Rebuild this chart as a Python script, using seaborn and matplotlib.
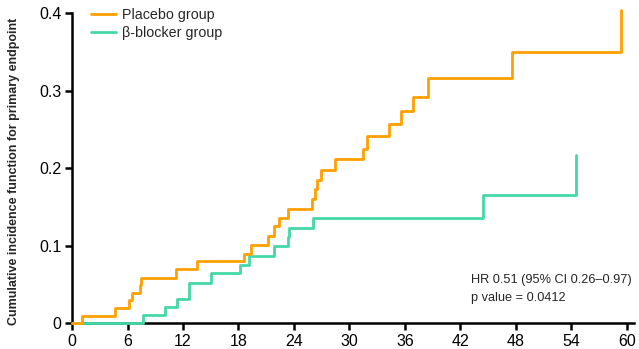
import pandas as pd
import matplotlib
matplotlib.use('Agg')
import matplotlib.pyplot as plt
import seaborn as sns

# ----------------------------- #
#  Data
# ----------------------------- #
placebo_time = [0, 1.05, 4.7, 6.2, 6.5, 7.35, 7.5, 11.2, 13.55, 18.6, 19.3, 21.2, 21.8,
                22.4, 23.4, 25.9, 26.3, 26.5, 26.9, 28.4, 31.5, 31.9, 34.3, 35.6, 36.9,
                38.5, 47.6, 59.4]
placebo_cif = [0, 0.010, 0.020, 0.030, 0.039, 0.049, 0.059, 0.070, 0.080, 0.090, 0.101,
               0.113, 0.125, 0.136, 0.148, 0.160, 0.173, 0.185, 0.198, 0.212, 0.225,
               0.242, 0.257, 0.274, 0.292, 0.317, 0.350, 0.405]

beta_time = [0, 7.7, 10.1, 11.3, 12.65, 15.0, 18.2, 19.1, 21.8, 23.3, 23.45, 26.1, 44.4, 54.45]
beta_cif = [0, 0.011, 0.0215, 0.031, 0.0525, 0.0645, 0.075, 0.087, 0.100, 0.112, 0.123,
            0.136, 0.165, 0.217]

x_ticks = [0, 6, 12, 18, 24, 30, 36, 42, 48, 54, 60]
y_ticks = [0, 0.1, 0.2, 0.3, 0.4]
y_tick_labels = ['0', '0.1', '0.2', '0.3', '0.4']

placebo_df = pd.DataFrame({'time': placebo_time, 'cif': placebo_cif})
beta_df = pd.DataFrame({'time': beta_time, 'cif': beta_cif})

# ----------------------------- #
#  Plot
# ----------------------------- #
sns.set_style('ticks')
plt.rcParams['font.family'] = ['Liberation Sans', 'DejaVu Sans']

fig = plt.figure(figsize=(6.39, 3.49), dpi=100)
ax = fig.add_axes([0.1127, 0.0736, 0.88, 0.888])

orange = '#FF9F00'
teal = '#45D8A6'

sns.lineplot(data=beta_df, x='time', y='cif', ax=ax, color=teal, lw=2.0,
             drawstyle='steps-post', estimator=None, sort=False,
             label='β-blocker group', zorder=3, clip_on=False)
sns.lineplot(data=placebo_df, x='time', y='cif', ax=ax, color=orange, lw=2.0,
             drawstyle='steps-post', estimator=None, sort=False,
             label='Placebo group', zorder=4, clip_on=False)

ax.set_xlim(0, 60.8)
ax.set_ylim(0, 0.4)
ax.set_xticks(x_ticks)
ax.set_yticks(y_ticks)
ax.set_yticklabels(y_tick_labels)
ax.set_xlabel('')
ax.set_ylabel('Cumulative incidence function for primary endpoint',
              fontsize=9, fontweight='bold')
ax.yaxis.set_label_coords(-0.0925, 0.49)
ax.tick_params(axis='both', labelsize=11.5, width=1.8, length=5, color='black',
               labelcolor='black', pad=2.5)
for side in ['left', 'bottom']:
    ax.spines[side].set_linewidth(1.8)
    ax.spines[side].set_color('black')
sns.despine(ax=ax)

handles, labels = ax.get_legend_handles_labels()
ax.legend(handles[::-1], labels[::-1], loc='upper left',
          bbox_to_anchor=(0.122, 1.015), bbox_transform=fig.transFigure,
          frameon=False, fontsize=10.3, handlelength=1.75, handletextpad=0.45,
          labelspacing=0.3)

fig.text(0.737, 0.215, 'HR 0.51 (95% CI 0.26\u20130.97)', fontsize=9.2, va='top')
fig.text(0.737, 0.163, 'p value = 0.0412', fontsize=9.2, va='top')

plt.savefig('out.png', dpi=100)
